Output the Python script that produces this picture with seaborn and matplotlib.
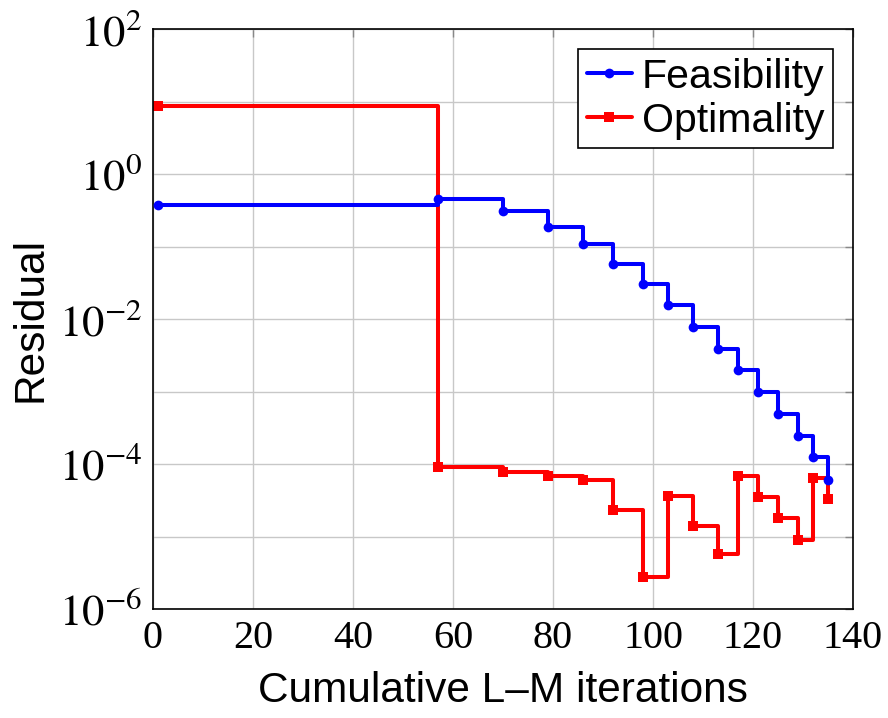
import matplotlib
matplotlib.use("Agg")
import matplotlib.pyplot as plt
import seaborn as sns
import pandas as pd
import numpy as np
from matplotlib.ticker import FixedLocator, FuncFormatter, NullLocator

feas_x = [1, 57, 70, 79, 86, 92, 98, 103, 108, 113, 117, 121, 125, 129, 132, 135]
feas_y = [0.37, 0.45, 0.31, 0.187, 0.108, 0.057, 0.030, 0.0154, 0.0077, 0.0039,
          0.0020, 0.00097, 0.00049, 0.000245, 0.000123, 6.1e-5]
opt_x = [1, 57, 70, 79, 86, 92, 98, 103, 108, 113, 117, 121, 125, 129, 132, 135]
opt_y = [8.8, 9.2e-5, 7.8e-5, 6.8e-5, 6.0e-5, 2.3e-5, 2.8e-6, 3.6e-5, 1.38e-5,
         5.7e-6, 6.9e-5, 3.5e-5, 1.8e-5, 8.9e-6, 6.5e-5, 3.3e-5]
x_ticks = [0, 20, 40, 60, 80, 100, 120, 140]
y_ticks = [1e-6, 1e-4, 1e-2, 1e0, 1e2]

df = pd.concat([
    pd.DataFrame({"it": feas_x, "res": feas_y, "series": "Feasibility"}),
    pd.DataFrame({"it": opt_x, "res": opt_y, "series": "Optimality"}),
])

sns.set_style("white")
plt.rcParams["mathtext.fontset"] = "stix"
plt.rcParams["font.family"] = ["Liberation Sans", "DejaVu Sans"]
plt.rcParams["text.color"] = "black"
plt.rcParams["axes.labelcolor"] = "black"
plt.rcParams["xtick.labelcolor"] = "black"
plt.rcParams["ytick.labelcolor"] = "black"

fig = plt.figure(figsize=(8.88, 7.18), dpi=100)
ax = fig.add_axes([153/888, 1 - 609/718, 700/888, 580/718])

for name, color, marker, ms in [("Feasibility", "#0000ff", "o", 7),
                                ("Optimality", "#ff0000", "s", 6.5)]:
    sub = df[df["series"] == name]
    sns.lineplot(data=sub, x="it", y="res", ax=ax, color=color, marker=marker,
                 markersize=ms, markeredgewidth=0, linewidth=2.9,
                 drawstyle="steps-post", label=name, zorder=3 if name == "Feasibility" else 2,
                 estimator=None, sort=False)

ax.set_yscale("log")
ax.set_xlim(0, 140)
ax.set_ylim(1e-6, 1e2)
ax.xaxis.set_major_locator(FixedLocator(x_ticks))
ax.yaxis.set_major_locator(FixedLocator([10.0**k for k in range(-6, 3)]))
ax.yaxis.set_minor_locator(NullLocator())

def yfmt(v, pos):
    k = int(round(np.log10(v)))
    if k % 2 != 0:
        return ""
    return r"$10^{%d}$" % k

ax.yaxis.set_major_formatter(FuncFormatter(yfmt))
ax.xaxis.set_major_formatter(FuncFormatter(lambda v, p: "%d" % v))

ax.grid(True, which="major", color="#c8c8c8", linewidth=1.0)
ax.tick_params(axis="both", which="major", direction="in", length=6, width=1,
               color="#888888", labelcolor="black", top=True, right=True, pad=8)
for lab in ax.get_xticklabels():
    lab.set_fontfamily(["Liberation Serif", "DejaVu Serif"])
    lab.set_fontsize(29)
for lab in ax.get_yticklabels():
    lab.set_fontfamily(["Liberation Serif", "DejaVu Serif"])
    lab.set_fontsize(32)
for s in ax.spines.values():
    s.set_color("black")
    s.set_linewidth(1.2)

ax.set_xlabel("Cumulative L–M iterations", fontsize=30.5, labelpad=10, color="black")
ax.set_ylabel("Residual", fontsize=30.5, labelpad=6, color="black")

leg = ax.legend(loc="upper right", fontsize=29.5, frameon=True, fancybox=False,
                edgecolor="black", framealpha=1, handlelength=1.1,
                handletextpad=0.25, borderpad=0.2, labelspacing=0.15,
                borderaxespad=0.5)
leg.get_frame().set_linewidth(1.2)
for t in leg.get_texts():
    t.set_color("black")

fig.savefig("out.png", dpi=100)
